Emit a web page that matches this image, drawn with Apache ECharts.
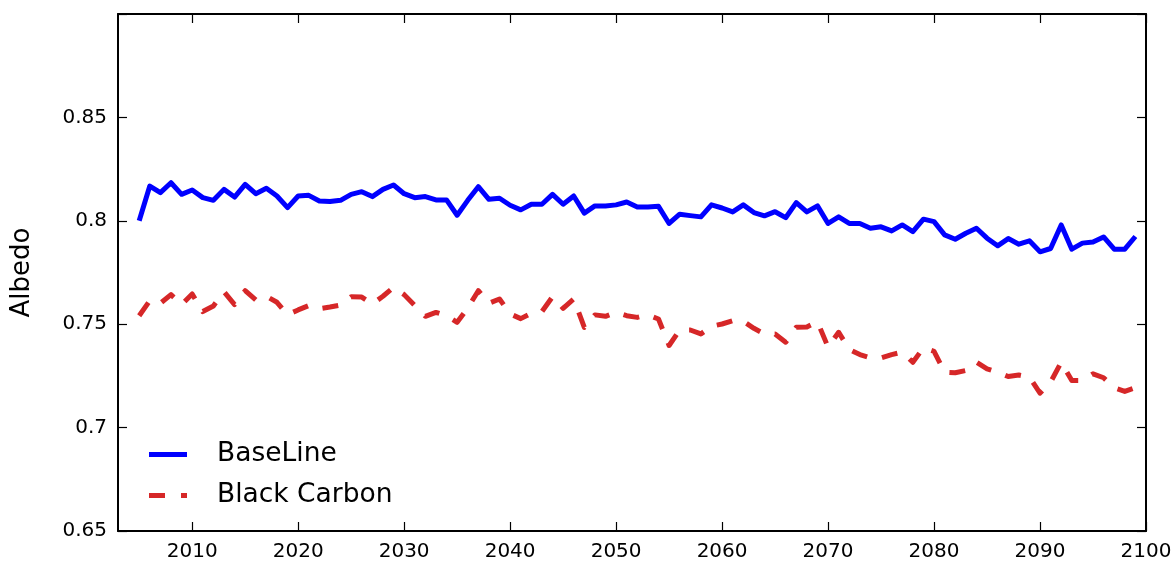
<!DOCTYPE html>
<html>
<head>
<meta charset="utf-8">
<script src="https://cdn.jsdelivr.net/npm/echarts@6/dist/echarts.min.js"></script>
<style>
  html, body { margin: 0; padding: 0; background: #fff; }
  #chart { width: 1176px; height: 562px; }
</style>
</head>
<body>
<div id="chart"></div>
<script>
// Yearly albedo, 2005-2099
const startYear = 2005;
const baseline = [
  0.8000, 0.8168, 0.8136, 0.8184, 0.8128, 0.8149, 0.8112, 0.8099, 0.8152, 0.8115,
  0.8176, 0.8131, 0.8157, 0.8120, 0.8064, 0.8120, 0.8123, 0.8096, 0.8093, 0.8099,
  0.8128, 0.8141, 0.8117, 0.8152, 0.8173, 0.8131, 0.8112, 0.8117, 0.8101, 0.8101,
  0.8027, 0.8099, 0.8165, 0.8104, 0.8109, 0.8075, 0.8053, 0.8080, 0.8080, 0.8128,
  0.8080, 0.8120, 0.8037, 0.8072, 0.8072, 0.8077, 0.8091, 0.8067, 0.8067, 0.8070,
  0.7987, 0.8032, 0.8025, 0.8019, 0.8077, 0.8062, 0.8043, 0.8077, 0.8040, 0.8024,
  0.8044, 0.8015, 0.8088, 0.8043, 0.8072, 0.7987, 0.8019, 0.7987, 0.7987, 0.7964,
  0.7971, 0.7951, 0.7980, 0.7948, 0.8008, 0.7996, 0.7932, 0.7911, 0.7940, 0.7964,
  0.7916, 0.7879, 0.7914, 0.7887, 0.7903, 0.7850, 0.7866, 0.7980, 0.7863, 0.7892,
  0.7898, 0.7922, 0.7863, 0.7863, 0.7924
];
const blackCarbon = [
  0.7541, 0.7614, 0.7601, 0.7643, 0.7595, 0.7646, 0.7561, 0.7588, 0.7657, 0.7595,
  0.7662, 0.7617, 0.7635, 0.7606, 0.7546, 0.7569, 0.7590, 0.7575, 0.7583, 0.7593,
  0.7633, 0.7631, 0.7598, 0.7635, 0.7678, 0.7643, 0.7590, 0.7538, 0.7557, 0.7541,
  0.7509, 0.7578, 0.7662, 0.7601, 0.7622, 0.7550, 0.7527, 0.7553, 0.7561, 0.7633,
  0.7577, 0.7622, 0.7485, 0.7545, 0.7538, 0.7557, 0.7541, 0.7533, 0.7545, 0.7525,
  0.7397, 0.7472, 0.7472, 0.7453, 0.7490, 0.7501, 0.7517, 0.7514, 0.7480, 0.7453,
  0.7453, 0.7413, 0.7485, 0.7487, 0.7512, 0.7389, 0.7461, 0.7378, 0.7353, 0.7337,
  0.7337, 0.7353, 0.7365, 0.7316, 0.7386, 0.7369, 0.7268, 0.7265, 0.7276, 0.7316,
  0.7284, 0.7268, 0.7247, 0.7254, 0.7244, 0.7167, 0.7220, 0.7316, 0.7228, 0.7228,
  0.7260, 0.7241, 0.7193, 0.7175, 0.7193
];
const seriesNames = ['BaseLine', 'Black Carbon'];
const xTicks = [2010, 2020, 2030, 2040, 2050, 2060, 2070, 2080, 2090, 2100];
const yTicks = [0.65, 0.7, 0.75, 0.8, 0.85, 0.9];
const yLabels = ['0.65', '0.7', '0.75', '0.8', '0.85', ''];

const years = baseline.map((_, i) => startYear + i);
const pairs = arr => arr.map((v, i) => [years[i], v]);

const FONT = 'DejaVu Sans';
const BLUE = '#0000ff';
const RED = '#d62728';
const frameLine = { show: true, onZero: false, lineStyle: { color: '#000', width: 2 } };
const innerTick = (vals) => ({
  show: true, inside: true, length: 9, customValues: vals,
  lineStyle: { color: '#000', width: 1.2 }
});

const xBase = { type: 'value', min: 2003, max: 2100, splitLine: { show: false }, axisLine: frameLine };
const yBase = { type: 'value', min: 0.65, max: 0.9, splitLine: { show: false }, axisLine: frameLine };

// legend keys: a solid bar and a dash + short dash
const solidKey = 'path://M0,0H38V5H0Z';
const dashKey = 'path://M0,0H16V5H0Z M32,0H38V5H32Z';

const chart = echarts.init(document.getElementById('chart'), null, { renderer: 'canvas' });
chart.setOption({
  animation: false,
  backgroundColor: '#fff',
  textStyle: { fontFamily: FONT },
  grid: { left: 118, right: 30, top: 14, bottom: 31, containLabel: false },
  legend: {
    orient: 'vertical',
    left: 144, top: 436,
    itemWidth: 40, itemHeight: 5, itemGap: 14,
    data: [
      { name: seriesNames[0], icon: solidKey, itemStyle: { color: BLUE } },
      { name: seriesNames[1], icon: dashKey, itemStyle: { color: RED } }
    ],
    textStyle: { fontFamily: FONT, fontSize: 26.5, color: '#000', lineHeight: 26, padding: [0, 0, 0, 24] }
  },
  xAxis: [
    Object.assign({}, xBase, {
      position: 'bottom',
      axisTick: innerTick(xTicks),
      axisLabel: {
        customValues: xTicks, fontFamily: FONT, fontSize: 20, color: '#000', margin: 11,
        formatter: v => String(v)
      }
    }),
    Object.assign({}, xBase, {
      position: 'top',
      axisTick: innerTick(xTicks),
      axisLabel: { show: false }
    })
  ],
  yAxis: [
    Object.assign({}, yBase, {
      position: 'left',
      name: 'Albedo', nameLocation: 'middle', nameRotate: 90, nameGap: 83,
      nameTextStyle: { fontFamily: FONT, fontSize: 26, color: '#000' },
      axisTick: innerTick(yTicks),
      axisLabel: {
        customValues: yTicks, fontFamily: FONT, fontSize: 20, color: '#000', margin: 11,
        formatter: v => yLabels[yTicks.findIndex(t => Math.abs(t - v) < 1e-9)] || ''
      }
    }),
    Object.assign({}, yBase, {
      position: 'right',
      axisTick: innerTick(yTicks),
      axisLabel: { show: false }
    })
  ],
  series: [
    {
      name: seriesNames[0], type: 'line', data: pairs(baseline),
      showSymbol: false, symbol: 'none', color: BLUE,
      lineStyle: { color: BLUE, width: 5, join: 'round' }
    },
    {
      name: seriesNames[1], type: 'line', data: pairs(blackCarbon),
      showSymbol: false, symbol: 'none', color: RED,
      lineStyle: { color: RED, width: 5, type: [16, 15], cap: 'butt', join: 'round' }
    }
  ]
});
</script>
</body>
</html>
